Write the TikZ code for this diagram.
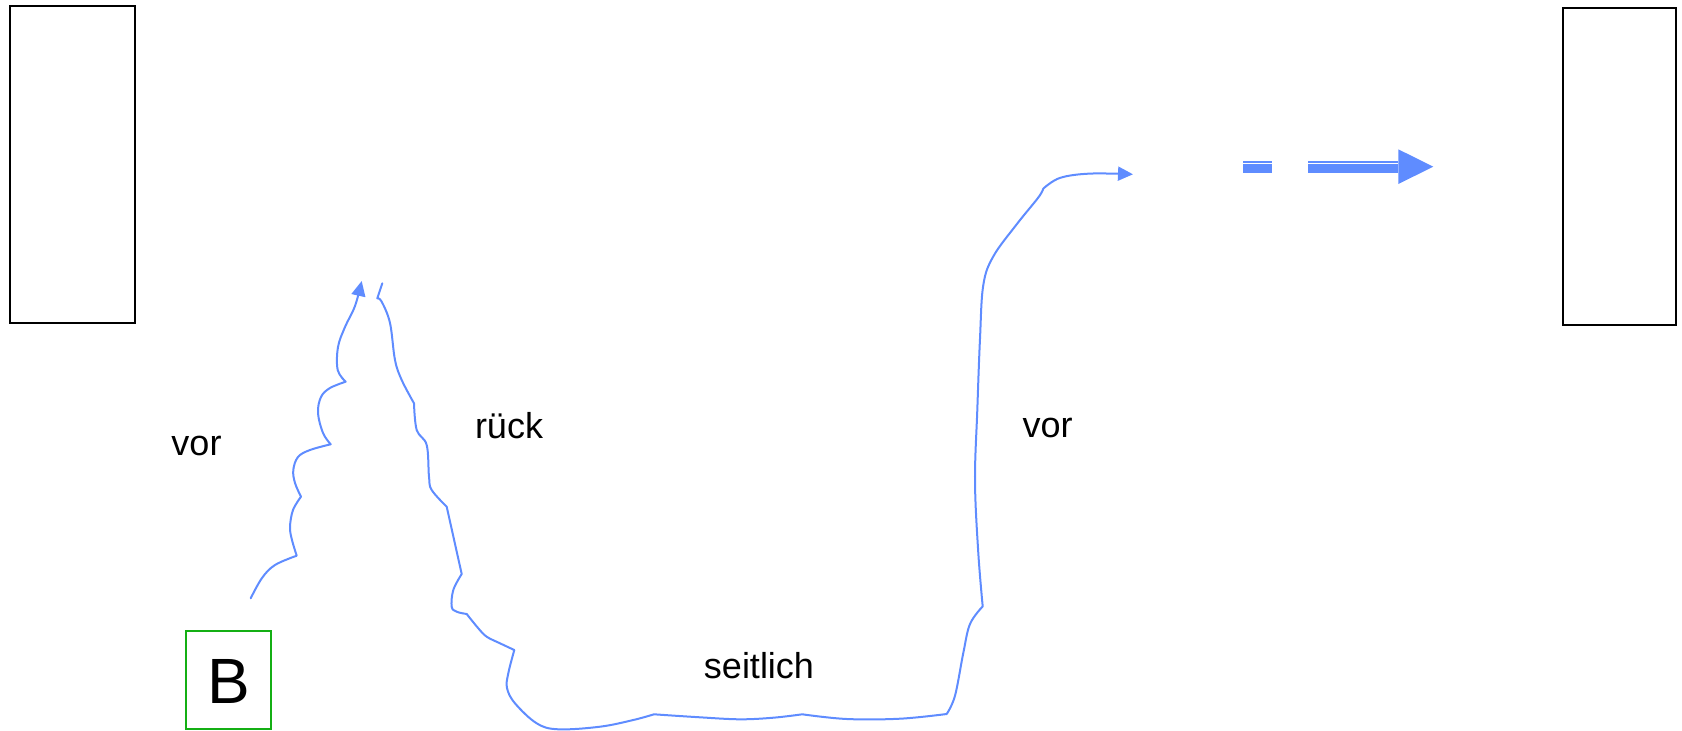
\documentclass[tikz,border=0pt]{standalone}
\usepackage{fontspec}
\setmainfont{Liberation Sans}
\usetikzlibrary{arrows.meta}
\definecolor{pathblue}{RGB}{95,140,255}
\definecolor{boxgreen}{RGB}{20,175,20}
\tikzset{
  wall/.style={draw=black,line width=2pt},
  robot/.style={draw=boxgreen,line width=2pt,minimum width=85pt,minimum height=98pt,inner sep=0pt,font=\fontsize{64}{70}\selectfont},
  move/.style={draw=pathblue,line width=2pt,line join=round,line cap=round},
  lbl/.style={font=\fontsize{36}{42}\selectfont,anchor=base,inner sep=0pt},
  tip/.style={-{Triangle[length=15pt,width=14pt]}}
}
\begin{document}
\begin{tikzpicture}[x=1pt,y=-1pt]
\useasboundingbox (0,0) rectangle (1682,731);
% walls
\draw[wall] (9.7,6.4) rectangle (135.2,322.9);
\draw[wall] (1563,7.5) rectangle (1675.6,325);
% robot
\node[robot] (B) at (228,679.7) {};
\node[font=\fontsize{64}{70}\selectfont,anchor=base,inner sep=0pt] (Bl) at (229,703.3) {B};
% labels
\node[lbl] (vor1) at (196.5,455) {vor};
\node[lbl] (rueck) at (509,438.5) {rück};
\node[lbl] (vor2) at (1047.5,437) {vor};
\node[lbl] (seit) at (759,678) {seitlich};
% forward path
\coordinate (f0) at (250.7,598.3);
\coordinate (f1) at (361.7,281);
\draw[move,tip] (f0)
  plot[smooth,tension=0.6] coordinates {(250.7,598.3) (262,578) (275,565) (296.7,555.7)}
  -- plot[smooth,tension=0.6] coordinates {(296.7,555.7) (292,540) (290,527) (293,510) (301,496.7)}
  -- plot[smooth,tension=0.6] coordinates {(301,496.7) (295,483) (293.3,470) (298,457) (310,450) (330.7,444.3)}
  -- plot[smooth,tension=0.6] coordinates {(330.7,444.3) (323,433) (318,413) (321,397) (330,388) (345.7,381.7)}
  -- plot[smooth,tension=0.6] coordinates {(345.7,381.7) (337.7,370) (338,347) (345,327) (355,306) (f1)};
% backward, sideways, forward path
\coordinate (r0) at (382.3,283.3);
\coordinate (r1) at (1133,174.3);
\draw[move,tip] (r0) -- (377.3,298.3)
  -- plot[smooth,tension=0.6] coordinates {(377.3,298.3) (381.7,301.7) (390,323) (395,360) (401.7,380) (414,403.3)}
  -- plot[smooth,tension=0.6] coordinates {(414,403.3) (416.7,430) (426.7,445) (429,476.7) (431.7,490) (446.7,506.7)}
  -- (461.7,574)
  -- plot[smooth,tension=0.6] coordinates {(461.7,574) (453.3,590) (451.7,606.7) (456.7,611.7) (466.7,614)}
  -- plot[smooth,tension=0.6] coordinates {(466.7,614) (478.3,628.3) (486.7,636.7) (500,643.3) (514.3,650)}
  -- plot[smooth,tension=0.6] coordinates {(514.3,650) (508.3,673.3) (507,688) (515,703.3) (536.7,723.3) (558.3,729.3) (600,726.7) (633.3,720) (654,714.3)}
  -- plot[smooth,tension=0.6] coordinates {(654,714.3) (700,717.3) (740,719.3) (773.3,717.7) (802.3,714.3)}
  -- plot[smooth,tension=0.6] coordinates {(802.3,714.3) (846.7,719) (900,718.7) (946.7,714)}
  -- plot[smooth,tension=0.6] coordinates {(946.7,714) (955,695.7) (963.3,653) (970,624) (982.7,606.4)}
  -- plot[smooth,tension=0.6] coordinates {(982.7,606.4) (978.3,553) (975,481) (977.3,410) (980,338.6) (983.3,285) (993.3,256.4) (1016.7,224.3) (1038.3,197.5) (1043.3,188.6)}
  -- plot[smooth,tension=0.6] coordinates {(1043.3,188.6) (1060,177.9) (1090,173.6) (r1)};
% "=" sign and double arrow
\fill[pathblue] (1242.7,160.7) rectangle (1272.3,162.7);
\fill[pathblue] (1242.7,164.3) rectangle (1272.3,172.7);
\fill[pathblue] (1308.3,160.7) rectangle (1398.3,162.7);
\fill[pathblue] (1308.3,164.3) rectangle (1398.3,172.7);
\fill[pathblue] (1398.3,149.3) -- (1433.3,166.7) -- (1398.3,184) -- cycle;
\end{tikzpicture}
\end{document}
